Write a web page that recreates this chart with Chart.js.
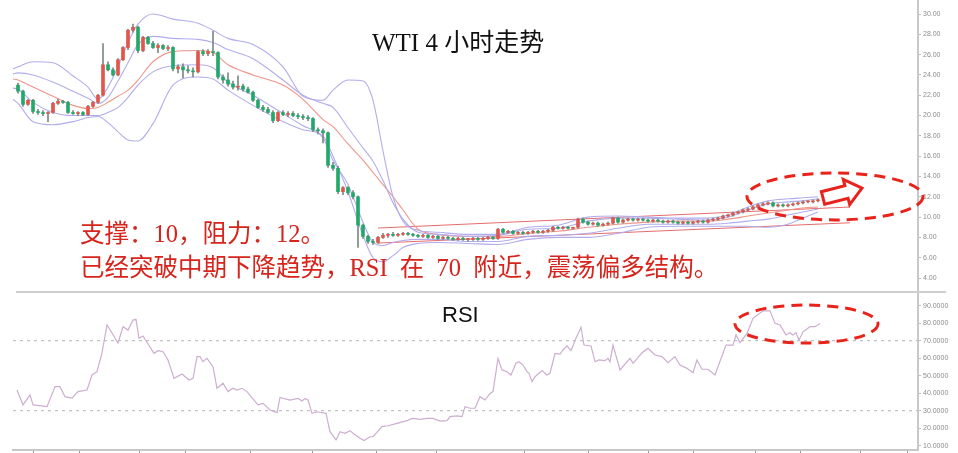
<!DOCTYPE html>
<html>
<head>
<meta charset="utf-8">
<script src="https://cdn.jsdelivr.net/npm/chart.js@4.4.0/dist/chart.umd.min.js"></script>
<style>
  body { margin: 0; background: #fff; width: 958px; height: 453px; overflow: hidden; position: relative; }
  #topBox { position: absolute; left: 0; top: 0; width: 958px; height: 293px; }
  #botBox { position: absolute; left: 0; top: 293px; width: 958px; height: 160px; }
  #sep { position: absolute; left: 16px; top: 291px; width: 930px; height: 2px; background: #cfcfcf; }
  .txt { position: absolute; white-space: nowrap; z-index: 5; }
  #title { left: 372px; top: 30px; font: 25px "Liberation Serif", "Noto Sans CJK SC"; line-height: 25px; color: #111; }
  .note { left: 80px; font: 24.5px "Liberation Serif", "Noto Sans CJK SC"; line-height: 24.5px; color: #d7241c; }
  #rsiLabel { left: 442px; top: 304px; font: 22px "Liberation Sans", Arial, sans-serif; line-height: 22px; color: #111; }
</style>
</head>
<body>
<div id="topBox"><canvas id="priceChart"></canvas></div>
<div id="botBox"><canvas id="rsiChart"></canvas></div>
<div id="sep"></div>
<div class="txt" id="title">WTI 4 小时走势</div>
<div class="txt note" style="top:222px">支撑：10，阻力：12。</div>
<div class="txt note" style="top:256px">已经突破中期下降趋势，RSI&ensp;在&ensp;70&ensp;附近，震荡偏多结构。</div>
<div class="txt" id="rsiLabel">RSI</div>
<script>
// 4h candles, one per bar index
var opens = [23.0,22.4,21.1,21.5,20.4,20.3,20.2,20.3,21.2,21.4, 21.3,20.3,20.2,20.3,20.1,20.9,21.3,22.0,25.0,24.5,
  24.0,25.5,26.7,28.4,28.7,26.4,27.7,27.1,26.7,26.9, 26.6,26.7,24.6,24.8,24.5,24.4,24.3,26.3,26.1,26.3,
  26.2,23.8,23.5,23.1,22.8,22.9,22.6,22.3,21.5,20.8, 20.6,20.3,19.5,20.3,20.1,20.2,20.0,19.9,19.8,19.7,
  18.6,18.5,18.3,15.1,14.8,12.5,12.9,12.4,12.0,9.2, 8.1,7.6,7.5,8.0,8.2,8.3,8.2,8.3,8.4,8.3,
  8.2,8.1,8.2,8.0,8.1,7.9,8.0,7.9,7.8,7.9, 7.8,7.8,7.9,7.8,7.9,8.0,7.9,8.8,8.5,8.6,
  8.4,8.5,8.4,8.5,8.6,8.5,8.6,8.7,9.0,8.9, 9.0,8.9,9.0,9.8,9.5,9.3,9.4,9.2,9.3,9.4,
  9.9,9.5,9.7,9.8,9.7,9.8,9.7,9.6,9.7,9.6, 9.5,9.6,9.5,9.4,9.5,9.4,9.5,9.6,9.5,9.7,
  9.8,9.9,10.1,10.2,10.4,10.5,10.7,10.8,11.0,11.2, 11.3,11.4,11.1,11.2,11.1,11.2,11.3,11.4,11.5,11.5,
  11.6];
var highs = [23.2,22.5,21.6,21.6,20.6,20.5,20.4,21.3,21.6,21.5, 21.4,20.5,20.4,20.4,21.0,21.4,22.1,27.1,25.3,24.7,
  25.6,26.8,28.5,29.0,28.8,27.8,27.8,27.3,27.1,27.0, 26.9,26.8,25.0,25.1,24.9,24.7,26.4,26.5,26.5,28.3,
  26.3,24.0,24.2,23.4,23.9,23.1,22.8,22.4,21.6,21.0, 20.8,20.5,20.4,20.5,20.4,20.4,20.2,20.1,20.0,19.8,
  18.8,18.7,18.4,15.4,15.0,13.0,13.0,12.6,12.1,9.3, 8.2,7.8,8.1,8.4,8.4,8.5,8.4,8.5,8.5,8.4,
  8.3,8.3,8.3,8.2,8.2,8.1,8.1,8.0,8.0,8.0, 7.9,8.0,8.0,8.0,8.1,8.1,8.9,8.9,8.7,8.7,
  8.6,8.6,8.6,8.7,8.7,8.7,8.8,9.1,9.1,9.1, 9.1,9.0,9.9,9.9,9.6,9.5,9.5,9.4,9.5,10.0,
  10.0,9.8,9.9,9.9,9.9,9.9,9.8,9.8,9.8,9.7, 9.7,9.7,9.6,9.6,9.6,9.6,9.7,9.7,9.8,9.9,
  10.0,10.2,10.3,10.5,10.6,10.8,10.9,11.1,11.3,11.4, 11.5,11.5,11.3,11.3,11.3,11.4,11.5,11.6,11.6,11.7,
  11.8];
var lows = [22.2,20.9,21.0,20.2,20.1,20.0,19.4,20.2,21.1,21.2, 20.2,20.1,20.0,20.0,20.0,20.8,21.2,21.9,24.4,23.9,
  23.9,25.4,26.5,28.2,26.2,26.3,27.0,26.6,26.2,26.5, 26.4,24.4,24.2,23.7,24.2,23.8,24.2,25.9,25.9,25.9,
  23.6,23.2,22.9,22.6,22.5,22.4,22.2,21.4,20.7,20.4, 20.2,19.3,19.4,20.0,19.9,19.9,19.7,19.6,19.5,18.4,
  18.2,17.3,14.9,14.6,12.3,12.2,12.2,11.8,7.0,7.9, 7.4,7.3,7.4,7.9,8.0,8.1,8.1,8.2,8.2,8.1,
  8.0,8.0,7.9,7.9,7.8,7.8,7.8,7.7,7.7,7.7, 7.6,7.7,7.7,7.7,7.8,7.8,7.8,8.4,8.4,8.3,
  8.3,8.3,8.3,8.4,8.4,8.4,8.5,8.6,8.8,8.8, 8.8,8.8,8.9,9.4,9.2,9.2,9.1,9.1,9.2,9.3,
  9.4,9.4,9.6,9.6,9.6,9.6,9.5,9.5,9.5,9.4, 9.4,9.4,9.3,9.3,9.3,9.3,9.4,9.4,9.4,9.6,
  9.7,9.8,10.0,10.1,10.3,10.4,10.6,10.7,10.9,11.1, 11.2,11.0,11.0,11.0,11.0,11.1,11.2,11.3,11.4,11.4,
  11.5];
var closes = [22.4,21.1,21.5,20.4,20.3,20.2,20.3,21.2,21.4,21.3, 20.3,20.2,20.3,20.1,20.9,21.3,22.0,25.0,24.5,24.0,
  25.5,26.7,28.4,28.7,26.4,27.7,27.1,26.7,26.9,26.6, 26.7,24.6,24.8,24.5,24.4,24.3,26.3,26.1,26.3,26.2,
  23.8,23.5,23.1,22.8,22.9,22.6,22.3,21.5,20.8,20.6, 20.3,19.5,20.3,20.1,20.2,20.0,19.9,19.8,19.7,18.6,
  18.5,18.3,15.1,14.8,12.5,12.9,12.4,12.0,9.2,8.1, 7.6,7.5,8.0,8.2,8.3,8.2,8.3,8.4,8.3,8.2,
  8.1,8.2,8.0,8.1,7.9,8.0,7.9,7.8,7.9,7.8, 7.8,7.9,7.8,7.9,8.0,7.9,8.8,8.5,8.6,8.4,
  8.5,8.4,8.5,8.6,8.5,8.6,8.7,9.0,8.9,9.0, 8.9,9.0,9.8,9.5,9.3,9.4,9.2,9.3,9.4,9.9,
  9.5,9.7,9.8,9.7,9.8,9.7,9.6,9.7,9.6,9.5, 9.6,9.5,9.4,9.5,9.4,9.5,9.6,9.5,9.7,9.8,
  9.9,10.1,10.2,10.4,10.5,10.7,10.8,11.0,11.2,11.3, 11.4,11.1,11.2,11.1,11.2,11.3,11.4,11.5,11.5,11.6,
  11.7];

// Bollinger style envelope and moving average, sampled at these bar indices
var bandIdx = [-1,0,3,7,11,14,16,18,20,22, 24,27,31,36,39,42,47,53,57,61,
  63,66,69,71,73,75,77,80,84,90, 96,102,108,114,120,126,132,138,142,146, 150,154,157,160];
var outerUp = [24.6,24.8,25.3,25.2,23.9,22.8,21.6,22.8,24.8,27.2, 29.0,30.0,29.5,29.1,28.4,27.6,27.0,24.8,21.9,21.5,
  22.5,23.5,23.4,21.5,16.5,12.0,9.6,8.7,8.5,8.3, 8.3,9.0,9.2,10.0,10.1,10.0,9.9,9.9,10.2,11.0, 11.6,11.8,11.9,12.0];
var innerUp = [24.1,24.2,24.0,23.3,22.4,21.7,21.2,21.8,23.4,25.2, 27.0,27.8,27.6,27.5,27.2,26.5,25.6,23.5,22.0,21.2,
  20.8,18.8,16.8,15.5,13.6,11.4,9.8,8.5,8.3,8.1, 8.2,8.8,8.9,9.6,9.9,9.9,9.8,9.7,10.0,10.7, 11.3,11.5,11.6,11.8];
var maLine = [23.6,23.5,22.8,21.9,21.0,20.7,20.8,21.3,21.9,22.5, 23.5,25.3,26.3,26.4,26.2,25.0,24.0,23.0,21.6,19.6,
  18.9,17.2,15.6,14.4,13.2,12.0,10.7,8.8,8.3,8.1, 8.1,8.4,8.6,9.0,9.3,9.5,9.6,9.6,9.8,10.1, 10.4,10.7,10.9,11.0];
var innerLow = [22.7,22.6,21.3,20.3,20.0,20.0,20.0,20.3,20.8,21.8, 23.0,24.3,24.9,25.0,24.7,23.3,22.0,20.2,19.0,17.8,
  15.6,13.2,9.5,7.5,7.2,7.5,7.7,7.8,7.8,7.6, 7.6,8.1,8.2,8.4,8.9,9.3,9.3,9.3,9.4,9.6, 9.8,10.2,10.5,10.8];
var outerLow = [21.6,21.2,19.4,19.1,19.4,19.8,19.9,19.3,18.4,17.6, 17.5,19.2,23.0,23.8,23.6,22.5,21.0,19.4,18.6,18.0,
  16.0,12.5,8.2,6.0,5.6,6.2,7.0,7.4,7.5,7.4, 7.3,7.8,8.0,8.0,8.4,9.0,9.1,9.1,9.1,9.1, 9.0,9.3,9.9,10.5];

// hand drawn channel
var chanIdx = [72, 166.4];
var chanUp = [8.92, 10.99];
var chanLow = [7.44, 9.44];

var priceTicks = [4,6,8,10,12,14,16,18,20,22,24,26,28,30];

// RSI
var rsiIdx = [-0.2,1,2.4,3,5.8,7.4,8.4,9.4,10.8,12, 13.8,14.8,15.8,16.8,17.8,18.8,20,21,22,23,
  23.6,24.2,25,27.2,28,29,30,31.2,32.8,34.2, 35,35.8,36.4,37,37.8,39,39.8,41,42,43,
  43.8,44.8,45.8,48,49,50.4,51.8,52.4,54.4,56, 56.8,57.4,58,58.8,59.8,61.6,62.4,63.6,64.4,65.4,
  66.4,67,68.4,69.2,70.4,71,72.8,74,75.8,77.8, 78.8,80.4,81.8,83,84.4,85.8,86.4,87.8,88.8,89.4,
  90.4,91.4,92.4,93.4,94.4,95,96,96.8,97.8,98.6, 99.6,100.2,101,101.8,102.2,102.8,103.4,104.8,105.8,106.4,
  107.4,108.4,109,109.8,110.6,111.6,112.6,113.2,114.6,115.4, 116.2,117.4,118,118.4,119,120.4,122.4,123,124.8,126,
  127.4,128.8,130,131.4,132.4,133.8,135,135.8,136.8,138, 139.4,141.6,143,143.6,144.4,145.8,147,149,150.4,151.4,
  152.4,153.6,154.4,155,155.6,156.2,157,158.4,159.4,160.4];
var rsiVals = [41.8,33.3,39,33.3,32.3,43.7,43.7,38,37.2,40.9, 41.8,50.4,52.3,63,79,74.4,68.7,78,76.1,81.8,
  82.2,71.4,72.7,62.8,64.3,63.7,59,48.5,51,47.5, 48.5,60.9,60.9,58,59.9,55.1,42.8,45.7,40.9,42.8,
  41.8,42.8,40.9,33.3,34.2,30.4,28.9,37.6,36.1,37, 35.5,37,36.1,28.5,29.4,28.5,18,13.3,18,17.1,
  18.6,17.1,14.2,12.9,15.1,15.1,20.9,21.4,22.8,24.3, 25.6,25,25.6,25.6,24.1,24.3,26.6,27,26.6,32.3,
  31.4,31.4,38,36.1,39.9,40.9,59.9,53.3,52.3,50.4, 57.1,58,56.1,52.3,51.4,46.6,49.4,52.9,50.4,51.4,
  62.8,62.4,64.7,67,64.3,71.4,77.7,67.5,67,58, 59,58.6,59.9,58,67.5,53.3,59.9,57.1,63.1,65.6,
  61.8,60.9,57.4,60.9,56.1,54.2,51.7,59,53.7,53.7, 50.4,67.5,67.5,73.3,68.9,74.2,82.8,87.1,87.1,79.9,
  79,73.3,74.6,73.3,74.6,70.4,75.1,78,78,79.9];
var rsiLevels = [70, 30];
var rsiTicks = [10,20,30,40,50,60,70,80,90];
var dateTicks = [3.1,12.2,24.3,33.4,46.4,58.9,71.6,83.7,101.3,114.1,126.1,135.1,147.4,156.4,168.4,177.8];

// annotations: [centre x, centre y, radius x, radius y] in data units
var priceEllipse = [163.4, 12.03, 17.6, 2.31];
var rsiEllipse = [157.7, 79.5, 14.3, 10.86];
var arrowFrom = [161, 11.88];
var arrowTo = [168.8, 12.86];

var upCol = '#e0564c', downCol = '#22a86a', wickCol = '#7b8a82';
var bandCol = '#b1adec', maCol = '#f0958a', chanCol = '#e66c6c';
var annCol = '#e8231b';

function pts(xs, ys) {
  return xs.map(function (x, i) { return { x: x, y: ys[i] }; });
}

function lineSet(xs, ys, color, width) {
  return {
    type: 'line', data: pts(xs, ys), borderColor: color, borderWidth: width,
    pointRadius: 0, cubicInterpolationMode: 'monotone', order: 2
  };
}

function drawEllipse(chart, e) {
  var xs = chart.scales.x, ys = chart.scales.y, ctx = chart.ctx;
  var cx = xs.getPixelForValue(e[0]), cy = ys.getPixelForValue(e[1]);
  var rx = Math.abs(xs.getPixelForValue(e[0] + e[2]) - cx);
  var ry = Math.abs(ys.getPixelForValue(e[1] + e[3]) - cy);
  ctx.save();
  ctx.beginPath();
  ctx.ellipse(cx, cy, rx, ry, 0, 0, Math.PI * 2);
  ctx.setLineDash([11, 7]);
  ctx.lineWidth = 3;
  ctx.strokeStyle = annCol;
  ctx.stroke();
  ctx.restore();
}

function drawArrow(chart, from, to) {
  var xs = chart.scales.x, ys = chart.scales.y, ctx = chart.ctx;
  var tx = xs.getPixelForValue(from[0]), ty = ys.getPixelForValue(from[1]);
  var hx = xs.getPixelForValue(to[0]), hy = ys.getPixelForValue(to[1]);
  var len = Math.hypot(hx - tx, hy - ty);
  var dx = (hx - tx) / len, dy = (hy - ty) / len;
  var nx = -dy, ny = dx;
  var shaft = 6.5, head = 13, headLen = 16;
  var bx = hx - dx * headLen, by = hy - dy * headLen;
  ctx.save();
  ctx.beginPath();
  ctx.moveTo(tx + nx * shaft, ty + ny * shaft);
  ctx.lineTo(bx + nx * shaft, by + ny * shaft);
  ctx.lineTo(bx + nx * head, by + ny * head);
  ctx.lineTo(hx, hy);
  ctx.lineTo(bx - nx * head, by - ny * head);
  ctx.lineTo(bx - nx * shaft, by - ny * shaft);
  ctx.lineTo(tx - nx * shaft, ty - ny * shaft);
  ctx.closePath();
  ctx.fillStyle = '#fff';
  ctx.fill();
  ctx.lineWidth = 3;
  ctx.lineJoin = 'miter';
  ctx.strokeStyle = annCol;
  ctx.stroke();
  ctx.restore();
}

var tickFont = { size: 7, family: 'Liberation Sans' };

var ctx = document.getElementById('priceChart');
new Chart(ctx, {
  type: 'bar',
  data: {
    datasets: [
      {
        type: 'bar', order: 0, grouped: false, barThickness: 3, minBarLength: 1,
        data: closes.map(function (c, i) { return { x: i, y: [opens[i], c] }; }),
        backgroundColor: closes.map(function (c, i) { return c >= opens[i] ? upCol : downCol; })
      },
      {
        type: 'bar', order: 1, grouped: false, barThickness: 1,
        data: closes.map(function (c, i) { return { x: i, y: [lows[i], highs[i]] }; }),
        backgroundColor: wickCol
      },
      lineSet(bandIdx, outerUp, bandCol, 1.1),
      lineSet(bandIdx, innerUp, bandCol, 1.1),
      lineSet(bandIdx, innerLow, bandCol, 1.1),
      lineSet(bandIdx, outerLow, bandCol, 1.1),
      lineSet(bandIdx, maLine, maCol, 1.1),
      lineSet(chanIdx, chanUp, chanCol, 1),
      lineSet(chanIdx, chanLow, chanCol, 1)
    ]
  },
  options: {
    responsive: true,
    maintainAspectRatio: false,
    animation: false,
    devicePixelRatio: 1,
    layout: { padding: { left: 13, right: 0, top: 0, bottom: 2 } },
    plugins: { legend: { display: false }, tooltip: { enabled: false } },
    scales: {
      x: { type: 'linear', min: -1, max: 180, offset: false, display: false },
      y: {
        position: 'right', min: 2.72, max: 31.38,
        afterBuildTicks: function (s) { s.ticks = priceTicks.map(function (v) { return { value: v }; }); },
        afterFit: function (s) { s.width = 40; s.paddingTop = 0; s.paddingBottom = 0; },
        ticks: { font: tickFont, color: '#8c8c8c', padding: 2, callback: function (v) { return v.toFixed(2); } },
        grid: { drawOnChartArea: false, tickLength: 3, color: '#bdbdbd' },
        border: { color: '#c8c8c8', width: 2 }
      }
    }
  },
  plugins: [{
    id: 'notes',
    afterDraw: function (chart) {
      drawEllipse(chart, priceEllipse);
      drawArrow(chart, arrowFrom, arrowTo);
    }
  }]
});

var ctxTwo = document.getElementById('rsiChart');
new Chart(ctxTwo, {
  type: 'line',
  data: {
    datasets: [
      { data: pts(rsiIdx, rsiVals), borderColor: '#cdaed0', borderWidth: 1.2, pointRadius: 0, tension: 0 },
      { data: [{ x: -1, y: rsiLevels[0] }, { x: 180, y: rsiLevels[0] }], borderColor: '#c2c2c2', borderWidth: 1.2, borderDash: [3, 4], pointRadius: 0 },
      { data: [{ x: -1, y: rsiLevels[1] }, { x: 180, y: rsiLevels[1] }], borderColor: '#c2c2c2', borderWidth: 1.2, borderDash: [3, 4], pointRadius: 0 }
    ]
  },
  options: {
    responsive: true,
    maintainAspectRatio: false,
    animation: false,
    devicePixelRatio: 1,
    layout: { padding: { left: 13, right: 0, top: 0, bottom: 0 } },
    plugins: { legend: { display: false }, tooltip: { enabled: false } },
    scales: {
      x: {
        type: 'linear', min: -1, max: 180,
        afterBuildTicks: function (s) { s.ticks = dateTicks.map(function (v) { return { value: v }; }); },
        afterFit: function (s) { s.height = 3; s.paddingLeft = 0; s.paddingRight = 0; },
        ticks: { display: false },
        grid: { drawOnChartArea: false, tickLength: 3, color: '#999' },
        border: { color: '#c8c8c8', width: 2 }
      },
      y: {
        position: 'right', min: 7.54, max: 97.26,
        afterBuildTicks: function (s) { s.ticks = rsiTicks.map(function (v) { return { value: v }; }); },
        afterFit: function (s) { s.width = 40; s.paddingTop = 0; s.paddingBottom = 0; },
        ticks: { font: tickFont, color: '#8c8c8c', padding: 2, callback: function (v) { return v.toFixed(4); } },
        grid: { drawOnChartArea: false, tickLength: 3, color: '#bdbdbd' },
        border: { color: '#c8c8c8', width: 2 }
      }
    }
  },
  plugins: [{
    id: 'notes',
    afterDraw: function (chart) { drawEllipse(chart, rsiEllipse); }
  }]
});
</script>
</body>
</html>
